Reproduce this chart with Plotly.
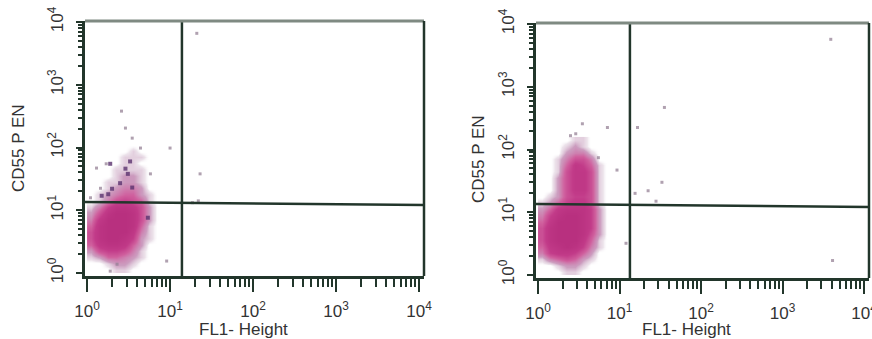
import plotly.graph_objects as go

# ---------------- data ----------------
X_TICK_TEXT = ["10<sup>0</sup>", "10<sup>1</sup>", "10<sup>2</sup>", "10<sup>3</sup>", "10<sup>4</sup>"]
TICK_VALUES = [1, 10, 100, 1000, 10000]

# density grid bin edges, in decades
LOG_X_EDGES = [0.0, 0.1, 0.2, 0.3, 0.4, 0.5, 0.6, 0.7, 0.8, 0.9, 1.0]
LOG_Y_EDGES = [0.0, 0.1, 0.2, 0.3, 0.4, 0.5, 0.6, 0.7, 0.8, 0.9, 1.0, 1.1,
               1.2, 1.3, 1.4, 1.5, 1.6, 1.7, 1.8, 1.9, 2.0, 2.1, 2.2]

density_left = [
    [0, 0, 0, 1, 1, 0, 0, 0, 0, 0],
    [0, 0, 1, 2, 2, 1, 0, 0, 0, 0],
    [1, 2, 4, 4, 3, 2, 1, 0, 0, 0],
    [2, 5, 6, 6, 5, 3, 1, 0, 0, 0],
    [4, 7, 8, 8, 7, 4, 2, 0, 0, 0],
    [5, 8, 9, 9, 8, 6, 2, 1, 0, 0],
    [5, 8, 9, 9, 9, 7, 3, 1, 0, 0],
    [4, 8, 9, 9, 9, 8, 4, 1, 0, 0],
    [3, 7, 9, 9, 9, 8, 5, 2, 0, 0],
    [2, 5, 8, 9, 9, 8, 5, 2, 0, 0],
    [1, 3, 6, 8, 8, 7, 5, 2, 0, 0],
    [0, 1, 3, 5, 6, 5, 4, 1, 0, 0],
    [0, 1, 2, 3, 4, 4, 2, 1, 0, 0],
    [0, 0, 1, 2, 3, 3, 2, 0, 0, 0],
    [0, 0, 1, 1, 2, 2, 1, 0, 0, 0],
    [0, 0, 0, 1, 2, 2, 1, 0, 0, 0],
    [0, 0, 0, 1, 1, 1, 1, 0, 0, 0],
    [0, 0, 0, 0, 1, 1, 0, 0, 0, 0],
    [0, 0, 0, 0, 1, 1, 1, 0, 0, 0],
    [0, 0, 0, 0, 0, 1, 0, 0, 0, 0],
    [0, 0, 0, 0, 0, 0, 0, 0, 0, 0],
    [0, 0, 0, 0, 0, 0, 0, 0, 0, 0],
]

density_right = [
    [0, 0, 0, 1, 1, 0, 0, 0, 0, 0],
    [0, 0, 1, 2, 2, 1, 0, 0, 0, 0],
    [1, 3, 4, 5, 4, 2, 1, 0, 0, 0],
    [3, 6, 7, 7, 6, 4, 2, 0, 0, 0],
    [4, 7, 8, 9, 8, 6, 3, 1, 0, 0],
    [5, 8, 9, 9, 9, 7, 4, 1, 0, 0],
    [5, 8, 9, 9, 9, 8, 5, 2, 0, 0],
    [5, 8, 9, 9, 9, 8, 6, 2, 0, 0],
    [4, 7, 9, 9, 9, 8, 6, 2, 0, 0],
    [3, 6, 8, 9, 9, 8, 6, 2, 0, 0],
    [2, 4, 7, 8, 8, 8, 6, 2, 0, 0],
    [1, 2, 4, 6, 7, 7, 5, 1, 0, 0],
    [0, 1, 2, 5, 6, 6, 5, 1, 0, 0],
    [0, 0, 2, 5, 7, 7, 5, 1, 0, 0],
    [0, 0, 2, 5, 7, 7, 5, 1, 0, 0],
    [0, 0, 2, 5, 7, 7, 5, 1, 0, 0],
    [0, 0, 1, 5, 7, 7, 5, 1, 0, 0],
    [0, 0, 1, 4, 7, 6, 4, 1, 0, 0],
    [0, 0, 1, 3, 5, 5, 3, 0, 0, 0],
    [0, 0, 0, 2, 3, 3, 1, 0, 0, 0],
    [0, 0, 0, 1, 2, 1, 0, 0, 0, 0],
    [0, 0, 0, 0, 1, 1, 0, 0, 0, 0],
]

# sparse single events outside the main clouds (FL1, CD55)
sparse_left_x = [2.9, 3.5, 4.4, 1.3, 1.7, 10.0, 23.0, 18.6, 21.9, 5.8, 1.45, 1.1, 1.9, 2.3, 9.1, 21.0, 2.6]
sparse_left_y = [204, 141, 98, 47, 55, 98, 38, 13.2, 14.1, 38, 22.4, 15.8, 1.07, 1.38, 1.55, 6600, 380]
dark_left_x = [3.3, 2.9, 2.0, 2.5, 3.1, 3.5, 1.8, 5.4, 1.9, 1.5]
dark_left_y = [60, 46, 22, 27, 38, 23, 18, 7.6, 55, 17]

sparse_right_x = [35.5, 7.1, 3.5, 2.9, 2.5, 16.6, 9.3, 33.1, 15.5, 22.4, 5.5, 3900, 4100, 12.0, 28.0]
sparse_right_y = [468, 224, 257, 178, 166, 224, 47, 30, 20, 22, 74, 5700, 1.7, 3.2, 15.0]

# gate positions (FL1 threshold; CD55 threshold at left / right end of the line)
gate_left = {"x": 13.9, "y_start": 13.5, "y_end": 12.1}
gate_right = {"x": 13.4, "y_start": 13.5, "y_end": 12.1}

# ---------------- styling ----------------
FONT = "Liberation Sans, Arial, sans-serif"
TXT = "#333333"
FRAME = "#22362b"
FRAME_LIGHT = "#7f8a82"
W, H = 872, 339

X_RANGE = [-0.025, 4.06]
Y_RANGE = [-0.048, 4.016]

colorscale = [
    [0.0, "rgba(255,255,255,0)"],
    [0.06, "rgba(215,195,212,0.45)"],
    [0.2, "rgba(195,140,180,0.85)"],
    [0.45, "#d0609e"],
    [0.7, "#c23b89"],
    [1.0, "#b8307f"],
]

minor_vals = [m * 10 ** d for d in range(4) for m in range(2, 10)]

fig = go.Figure()


def add_panel(idx, dens, sx, sy, gate, dx=None, dy=None):
    xa = "x" if idx == 1 else "x2"
    ya = "y" if idx == 1 else "y2"
    fig.add_trace(go.Heatmap(
        x=[10 ** e for e in LOG_X_EDGES], y=[10 ** e for e in LOG_Y_EDGES], z=dens,
        zmin=0, zmax=9, zsmooth="best", colorscale=colorscale, showscale=False,
        hoverinfo="skip", xaxis=xa, yaxis=ya))
    fig.add_trace(go.Scatter(
        x=sx, y=sy, mode="markers", xaxis=xa, yaxis=ya, showlegend=False,
        marker=dict(symbol="square", size=3, color="rgba(150,130,150,0.75)", line=dict(width=0))))
    if dx:
        fig.add_trace(go.Scatter(
            x=dx, y=dy, mode="markers", xaxis=xa, yaxis=ya, showlegend=False,
            marker=dict(symbol="square", size=4, color="rgba(90,50,110,0.8)", line=dict(width=0))))
    ylo, yhi = 10 ** Y_RANGE[0], 10 ** Y_RANGE[1]
    xlo, xhi = 10 ** X_RANGE[0], 10 ** X_RANGE[1]
    fig.add_trace(go.Scatter(
        x=[gate["x"], gate["x"]], y=[ylo, yhi], mode="lines", xaxis=xa, yaxis=ya,
        showlegend=False, line=dict(color=FRAME, width=2.5)))
    fig.add_trace(go.Scatter(
        x=[xlo, xhi], y=[gate["y_start"], gate["y_end"]], mode="lines", xaxis=xa, yaxis=ya,
        showlegend=False, line=dict(color=FRAME, width=2.5)))
    # top (light) and right (dark) frame edges
    fig.add_shape(type="line", xref=f"{xa} domain", yref=f"{ya} domain",
                  x0=0, x1=1, y0=1, y1=1, line=dict(color=FRAME_LIGHT, width=3))
    fig.add_shape(type="line", xref=f"{xa} domain", yref=f"{ya} domain",
                  x0=1, x1=1, y0=0, y1=1, line=dict(color=FRAME, width=2.5))


add_panel(1, density_left, sparse_left_x, sparse_left_y, gate_left, dark_left_x, dark_left_y)
add_panel(2, density_right, sparse_right_x, sparse_right_y, gate_right)

common_x = dict(
    type="log", range=X_RANGE, tickmode="array", tickvals=TICK_VALUES, ticktext=X_TICK_TEXT,
    ticks="outside", ticklen=13, tickwidth=2, tickcolor=FRAME,
    minor=dict(tickmode="array", tickvals=minor_vals, ticks="outside", ticklen=8,
               tickwidth=2, tickcolor=FRAME, showgrid=False),
    showline=True, linewidth=2.5, linecolor=FRAME, mirror=False, showgrid=False, zeroline=False,
    tickfont=dict(family=FONT, size=17, color=TXT), ticklabelstandoff=5, automargin=False,
    ticklabeloverflow="allow",
)
common_y = dict(
    type="log", range=Y_RANGE, tickmode="array", tickvals=TICK_VALUES, ticktext=X_TICK_TEXT,
    ticks="outside", ticklen=6, tickwidth=2, tickcolor=FRAME,
    minor=dict(tickmode="array", tickvals=minor_vals, ticks="outside", ticklen=4,
               tickwidth=2, tickcolor=FRAME, showgrid=False),
    showline=True, linewidth=3, linecolor=FRAME, mirror=False, showgrid=False, zeroline=False,
    tickangle=-90, tickfont=dict(family=FONT, size=17, color=TXT), ticklabelstandoff=6,
    automargin=False, ticklabeloverflow="allow",
)

title_font = dict(family=FONT, size=17, color=TXT)
fig.update_layout(
    width=W, height=H, margin=dict(l=0, r=0, t=0, b=0, pad=0, autoexpand=False),
    paper_bgcolor="white", plot_bgcolor="white", showlegend=False,
    xaxis=dict(common_x, domain=[85 / W, 424 / W], anchor="y"),
    yaxis=dict(common_y, domain=[(H - 276) / H, (H - 21) / H], anchor="x"),
    xaxis2=dict(common_x, domain=[536 / W, 869 / W], anchor="y2"),
    yaxis2=dict(common_y, domain=[(H - 278) / H, (H - 23) / H], anchor="x2"),
    annotations=[
        dict(text="FL1- Height", x=243 / W, y=(H - 329) / H, xref="paper", yref="paper",
             xanchor="center", yanchor="middle", showarrow=False, font=title_font),
        dict(text="FL1- Height", x=686 / W, y=(H - 329) / H, xref="paper", yref="paper",
             xanchor="center", yanchor="middle", showarrow=False, font=title_font),
        dict(text="CD55 P EN", x=18 / W, y=(H - 148) / H, xref="paper", yref="paper",
             xanchor="center", yanchor="middle", showarrow=False, textangle=-90, font=title_font),
        dict(text="CD55 P EN", x=479 / W, y=(H - 159) / H, xref="paper", yref="paper",
             xanchor="center", yanchor="middle", showarrow=False, textangle=-90, font=title_font),
    ],
)

fig.write_html(
    "out.html",
    config={"displayModeBar": False},
    post_script="document.body.style.margin='0';document.body.style.overflow='hidden';",
)
